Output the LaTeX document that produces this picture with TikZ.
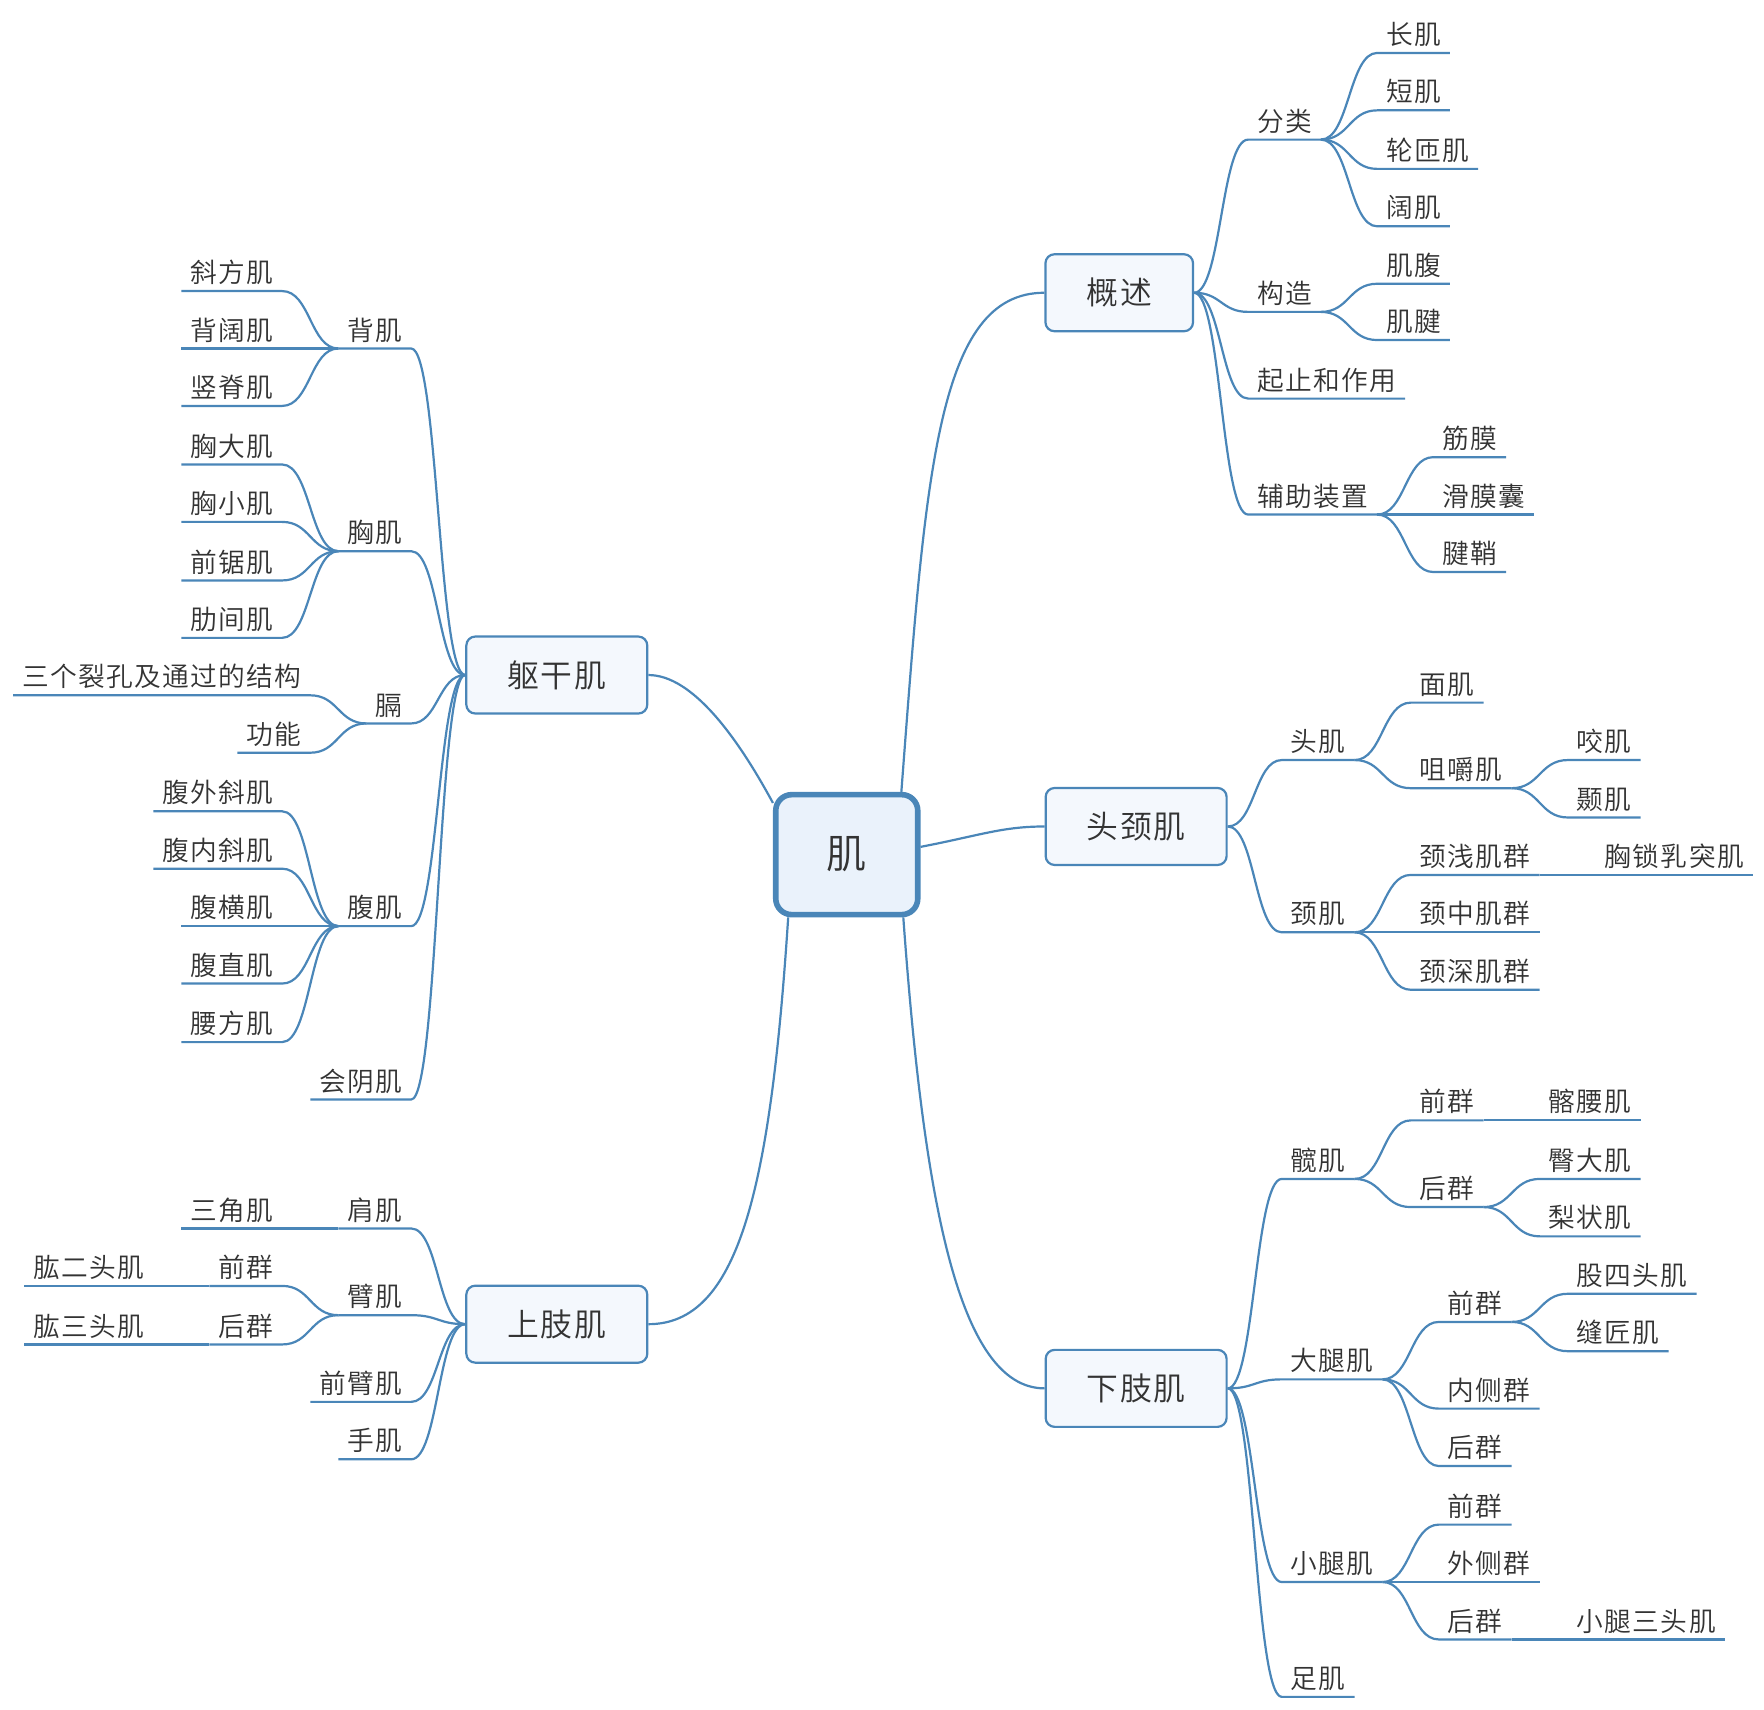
\documentclass[tikz,border=0pt]{standalone}
\usepackage{fontspec}
\setmainfont{Noto Sans CJK SC}[UprightFont={* DemiLight}, LetterSpace=5]
\usetikzlibrary{calc,positioning}
\definecolor{linkblue}{HTML}{4A86B8}
\definecolor{boxfill}{HTML}{F4F8FD}
\definecolor{rootfill}{HTML}{EAF2FB}
\definecolor{inkgray}{HTML}{333333}

\tikzset{
  link/.style={to path={.. controls ($(\tikztostart)!0.5!(\tikztostart-|\tikztotarget)$) and ($(\tikztotarget)!0.5!(\tikztotarget-|\tikztostart)$) .. (\tikztotarget)}},
  rootbox/.style={draw=linkblue, line width=2.8pt, fill=rootfill, rounded corners=8pt, minimum width=71pt, minimum height=60pt, font=\fontsize{20}{24}\selectfont, text=inkgray},
  mainbox/.style={draw=linkblue, line width=1.1pt, fill=boxfill, rounded corners=4.5pt, inner xsep=20.6pt, minimum height=38.5pt, font=\fontsize{15.9}{20}\selectfont, text=inkgray},
  sub/.style={inner xsep=4.3pt, inner ysep=2.4pt, text height=11.8pt, text depth=1.6pt, font=\fontsize{13.35}{16}\selectfont, text=inkgray},
  rsub/.style={sub, anchor=south west},
  lsub/.style={sub, anchor=south east},
  conn/.style={draw=linkblue, line width=1.1pt},
}

\begin{document}
\begin{tikzpicture}[x=0.563pt, y=-0.563pt]
\useasboundingbox (0,0) rectangle (1566.6,1517.8);

% central topic and main branches
\node[rootbox] (root) at (752,759) {肌};
\node[mainbox] (gaishu) at (994,260) {概述};
\node[mainbox] (toujing) at (1009,734) {头颈肌};
\node[mainbox] (xiazhi) at (1009,1233) {下肢肌};
\node[mainbox] (qugan) at (494.5,599.5) {躯干肌};
\node[mainbox] (shangzhi) at (494.5,1176) {上肢肌};

% 概述
\node[rsub] (fenlei) at ($(gaishu.east)+(48,-136)$) {分类};
\node[rsub] (gouzao) at ($(gaishu.east)+(48,17)$) {构造};
\node[rsub] (qizhi) at ($(gaishu.east)+(48,94)$) {起止和作用};
\node[rsub] (fuzhu) at ($(gaishu.east)+(48,197)$) {辅助装置};
\node[rsub] (changji) at ($(fenlei.south east)+(50,-77)$) {长肌};
\node[rsub] (duanji) at ($(fenlei.south east)+(50,-26)$) {短肌};
\node[rsub] (lunza) at ($(fenlei.south east)+(50,26)$) {轮匝肌};
\node[rsub] (kuoji) at ($(fenlei.south east)+(50,77)$) {阔肌};
\node[rsub] (jifu) at ($(gouzao.south east)+(50,-25)$) {肌腹};
\node[rsub] (jijian) at ($(gouzao.south east)+(50,25)$) {肌腱};
\node[rsub] (jinmo) at ($(fuzhu.south east)+(50,-51)$) {筋膜};
\node[rsub] (huamo) at ($(fuzhu.south east)+(50,0)$) {滑膜囊};
\node[rsub] (jianqiao) at ($(fuzhu.south east)+(50,51)$) {腱鞘};

% 头颈肌
\node[rsub] (touji) at ($(toujing.east)+(48,-59)$) {头肌};
\node[rsub] (jingji) at ($(toujing.east)+(48,94)$) {颈肌};
\node[rsub] (mianji) at ($(touji.south east)+(50,-51)$) {面肌};
\node[rsub] (jujue) at ($(touji.south east)+(50,25)$) {咀嚼肌};
\node[rsub] (yaoji) at ($(jujue.south east)+(50,-25)$) {咬肌};
\node[rsub] (nieji) at ($(jujue.south east)+(50,26)$) {颞肌};
\node[rsub] (jingqian) at ($(jingji.south east)+(50,-51)$) {颈浅肌群};
\node[rsub] (jingzhong) at ($(jingji.south east)+(50,0)$) {颈中肌群};
\node[rsub] (jingshen) at ($(jingji.south east)+(50,51)$) {颈深肌群};
\node[rsub] (xiongsuo) at ($(jingqian.south east)+(50,0)$) {胸锁乳突肌};

% 下肢肌
\node[rsub] (kuanji) at ($(xiazhi.east)+(48,-186)$) {髋肌};
\node[rsub] (datui) at ($(xiazhi.east)+(48,-8)$) {大腿肌};
\node[rsub] (xiaotui) at ($(xiazhi.east)+(48,172)$) {小腿肌};
\node[rsub] (zuji) at ($(xiazhi.east)+(48,274)$) {足肌};
\node[rsub] (kqian) at ($(kuanji.south east)+(50,-52)$) {前群};
\node[rsub] (khou) at ($(kuanji.south east)+(50,25)$) {后群};
\node[rsub] (qiayao) at ($(kqian.south east)+(50,0)$) {髂腰肌};
\node[rsub] (tunda) at ($(khou.south east)+(50,-25)$) {臀大肌};
\node[rsub] (lizhuang) at ($(khou.south east)+(50,26)$) {梨状肌};
\node[rsub] (dqian) at ($(datui.south east)+(50,-51)$) {前群};
\node[rsub] (neice) at ($(datui.south east)+(50,26)$) {内侧群};
\node[rsub] (dhou) at ($(datui.south east)+(50,77)$) {后群};
\node[rsub] (gusi) at ($(dqian.south east)+(50,-25)$) {股四头肌};
\node[rsub] (fengjiang) at ($(dqian.south east)+(50,26)$) {缝匠肌};
\node[rsub] (xqian) at ($(xiaotui.south east)+(50,-51)$) {前群};
\node[rsub] (waice) at ($(xiaotui.south east)+(50,0)$) {外侧群};
\node[rsub] (xhou) at ($(xiaotui.south east)+(50,51)$) {后群};
\node[rsub] (santou) at ($(xhou.south east)+(50,0)$) {小腿三头肌};

% 躯干肌
\node[lsub] (beiji) at ($(qugan.west)+(-48,-290)$) {背肌};
\node[lsub] (xiongji) at ($(qugan.west)+(-48,-110)$) {胸肌};
\node[lsub] (ge) at ($(qugan.west)+(-48,43)$) {膈};
\node[lsub] (fuji) at ($(qugan.west)+(-48,223)$) {腹肌};
\node[lsub] (huiyin) at ($(qugan.west)+(-48,377)$) {会阴肌};
\node[lsub] (xiefang) at ($(beiji.south west)+(-50,-51)$) {斜方肌};
\node[lsub] (beikuo) at ($(beiji.south west)+(-50,0)$) {背阔肌};
\node[lsub] (shuji) at ($(beiji.south west)+(-50,51)$) {竖脊肌};
\node[lsub] (xiongda) at ($(xiongji.south west)+(-50,-77)$) {胸大肌};
\node[lsub] (xiongxiao) at ($(xiongji.south west)+(-50,-26)$) {胸小肌};
\node[lsub] (qianju) at ($(xiongji.south west)+(-50,26)$) {前锯肌};
\node[lsub] (leijian) at ($(xiongji.south west)+(-50,77)$) {肋间肌};
\node[lsub] (liekong) at ($(ge.south west)+(-50,-25)$) {三个裂孔及通过的结构};
\node[lsub] (gongneng) at ($(ge.south west)+(-50,26)$) {功能};
\node[lsub] (fuwai) at ($(fuji.south west)+(-50,-102)$) {腹外斜肌};
\node[lsub] (funei) at ($(fuji.south west)+(-50,-51)$) {腹内斜肌};
\node[lsub] (fuheng) at ($(fuji.south west)+(-50,0)$) {腹横肌};
\node[lsub] (fuzhi) at ($(fuji.south west)+(-50,51)$) {腹直肌};
\node[lsub] (yaofang) at ($(fuji.south west)+(-50,103)$) {腰方肌};

% 上肢肌
\node[lsub] (jianji) at ($(shangzhi.west)+(-48,-85)$) {肩肌};
\node[lsub] (biji) at ($(shangzhi.west)+(-48,-8)$) {臂肌};
\node[lsub] (qianbi) at ($(shangzhi.west)+(-48,69)$) {前臂肌};
\node[lsub] (shouji) at ($(shangzhi.west)+(-48,120)$) {手肌};
\node[lsub] (sanjiao) at ($(jianji.south west)+(-50,0)$) {三角肌};
\node[lsub] (bqian) at ($(biji.south west)+(-50,-26)$) {前群};
\node[lsub] (bhou) at ($(biji.south west)+(-50,26)$) {后群};
\node[lsub] (gonger) at ($(bqian.south west)+(-50,0)$) {肱二头肌};
\node[lsub] (gongsan) at ($(bhou.south west)+(-50,0)$) {肱三头肌};

% connectors from the centre
\draw[conn] (root.49) .. controls (822,420) and (832,260) .. (gaishu.west);
\draw[conn] (root.6) .. controls (870,742) and (890,734) .. (toujing.west);
\draw[conn] (root.145) .. controls (655,655) and (615,599.5) .. (qugan.east);
\draw[conn] (root.227) .. controls (684,1060) and (655,1176) .. (shangzhi.east);
\draw[conn] (root.312) .. controls (820,1060) and (850,1233) .. (xiazhi.west);

% right side branches
\foreach \from/\to in {gaishu.east/fenlei, gaishu.east/gouzao, gaishu.east/qizhi, gaishu.east/fuzhu,
    fenlei.south east/changji, fenlei.south east/duanji, fenlei.south east/lunza, fenlei.south east/kuoji,
    gouzao.south east/jifu, gouzao.south east/jijian,
    fuzhu.south east/jinmo, fuzhu.south east/huamo, fuzhu.south east/jianqiao,
    toujing.east/touji, toujing.east/jingji,
    touji.south east/mianji, touji.south east/jujue,
    jujue.south east/yaoji, jujue.south east/nieji,
    jingji.south east/jingqian, jingji.south east/jingzhong, jingji.south east/jingshen,
    jingqian.south east/xiongsuo,
    xiazhi.east/kuanji, xiazhi.east/datui, xiazhi.east/xiaotui, xiazhi.east/zuji,
    kuanji.south east/kqian, kuanji.south east/khou,
    kqian.south east/qiayao, khou.south east/tunda, khou.south east/lizhuang,
    datui.south east/dqian, datui.south east/neice, datui.south east/dhou,
    dqian.south east/gusi, dqian.south east/fengjiang,
    xiaotui.south east/xqian, xiaotui.south east/waice, xiaotui.south east/xhou,
    xhou.south east/santou}
  \draw[conn] (\from) to[link] (\to.south west) -- (\to.south east);

% left side branches
\foreach \from/\to in {qugan.west/beiji, qugan.west/xiongji, qugan.west/ge, qugan.west/fuji, qugan.west/huiyin,
    beiji.south west/xiefang, beiji.south west/beikuo, beiji.south west/shuji,
    xiongji.south west/xiongda, xiongji.south west/xiongxiao, xiongji.south west/qianju, xiongji.south west/leijian,
    ge.south west/liekong, ge.south west/gongneng,
    fuji.south west/fuwai, fuji.south west/funei, fuji.south west/fuheng, fuji.south west/fuzhi, fuji.south west/yaofang,
    shangzhi.west/jianji, shangzhi.west/biji, shangzhi.west/qianbi, shangzhi.west/shouji,
    jianji.south west/sanjiao, biji.south west/bqian, biji.south west/bhou,
    bqian.south west/gonger, bhou.south west/gongsan}
  \draw[conn] (\from) to[link] (\to.south east) -- (\to.south west);

\end{tikzpicture}
\end{document}
